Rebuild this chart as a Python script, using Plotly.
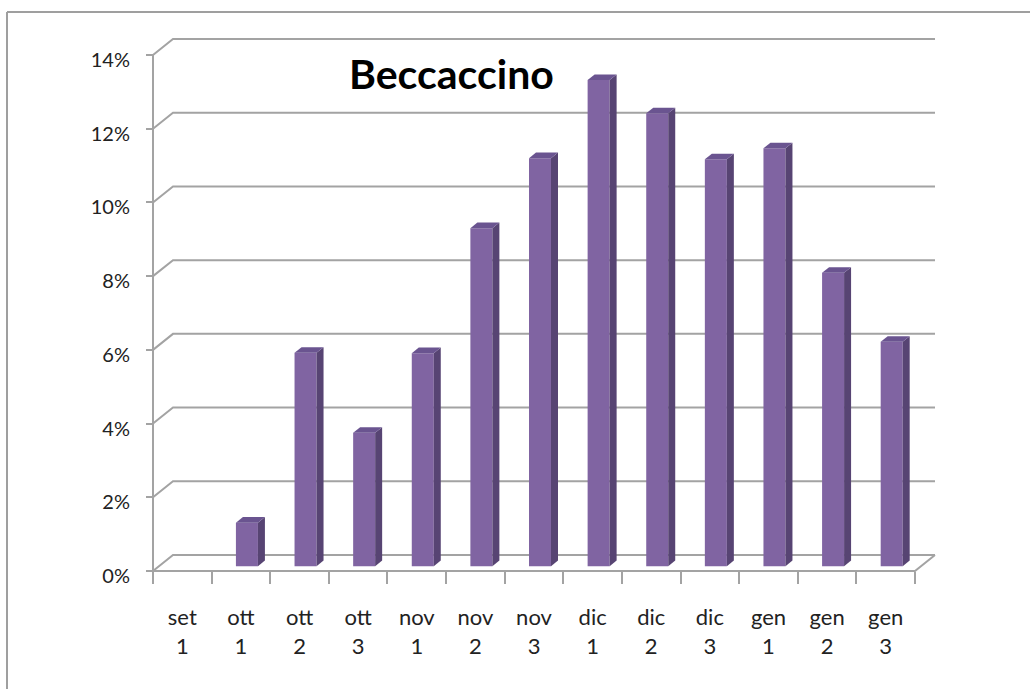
import plotly.graph_objects as go

# ---------------- data ----------------
categories = ["set<br>1", "ott<br>1", "ott<br>2", "ott<br>3", "nov<br>1", "nov<br>2", "nov<br>3",
              "dic<br>1", "dic<br>2", "dic<br>3", "gen<br>1", "gen<br>2", "gen<br>3"]
values = [0.0, 1.18, 5.79, 3.62, 5.78, 9.17, 11.07, 13.19, 12.29, 11.04, 11.34, 7.96, 6.09]
y_ticks = [0, 2, 4, 6, 8, 10, 12, 14]
y_tick_labels = [f"{t}%" for t in y_ticks]
title_text = "Beccaccino"

# ---------------- geometry / style ----------------
W, H = 1030, 689
X0PX, UX = 153.0, 762.0 / 13.0      # pixel of left category edge, px per category
Y0PX, UY = 571.0, 516.0 / 14.0      # pixel of 0 %, px per 1 %
DX, DY = 20.0 / UX, 16.0 / UY       # full depth of the 3D box, data units
F_POS, F_DEPTH = 0.30, 0.35         # bar depth position / bar depth (fraction of full depth)
BAR_W = 22.0 / UX

GRID = "#a3a3a3"
FRONT = "#8064a2"
SIDE = "#574473"
TOP = "#6a5490"
FONT = "Lato"


def px_to_x(px):
    return -0.5 + (px - X0PX) / UX


def py_to_y(py):
    return (Y0PX - py) / UY


n = len(categories)
x_left, x_right = -0.5, n - 0.5

fig = go.Figure()

# walls, floor and grid lines (as shapes below the traces)
segments = []
for t in y_ticks:
    segments.append([(x_left, t), (x_left + DX, t + DY), (x_right + DX, t + DY)])
segments.append([(x_left, 0), (x_left, y_ticks[-1])])
segments.append([(x_left, 0), (x_right, 0), (x_right + DX, DY)])
path = " ".join("M " + " L ".join(f"{x:.5f},{y:.5f}" for x, y in seg) for seg in segments)
shapes = [dict(type="path", xref="x", yref="y", path=path, layer="below",
               line=dict(color=GRID, width=2))]

off = F_POS * DX
yb = F_POS * DY
ddx, ddy = F_DEPTH * DX, F_DEPTH * DY
bar_x = [i + off for i in range(n)]

# front faces
fig.add_trace(go.Bar(x=bar_x, y=values, base=[yb] * n, width=BAR_W,
                     marker=dict(color=FRONT, line=dict(width=0)),
                     hoverinfo="skip", showlegend=False))

for i, v in enumerate(values):
    if v <= 0:
        continue
    xl = bar_x[i] - BAR_W / 2
    xr = bar_x[i] + BAR_W / 2
    yt = yb + v
    # side face
    fig.add_trace(go.Scatter(x=[xr, xr + ddx, xr + ddx, xr, xr],
                             y=[yb, yb + ddy, yt + ddy, yt, yb],
                             mode="lines", fill="toself", fillcolor=SIDE,
                             line=dict(width=0, color=SIDE), hoverinfo="skip", showlegend=False))
    # top face
    fig.add_trace(go.Scatter(x=[xl, xr, xr + ddx, xl + ddx, xl],
                             y=[yt, yt, yt + ddy, yt + ddy, yt],
                             mode="lines", fill="toself", fillcolor=TOP,
                             line=dict(width=0, color=TOP), hoverinfo="skip", showlegend=False))

shapes += [
    dict(type="line", xref="paper", yref="paper", x0=7 / W, x1=1.0, y0=1 - 12 / H, y1=1 - 12 / H,
         line=dict(color="#9f9f9f", width=2)),
    dict(type="line", xref="paper", yref="paper", x0=7 / W, x1=7 / W, y0=1 - 12 / H, y1=0,
         line=dict(color="#9f9f9f", width=2)),
]

fig.update_layout(
    width=W, height=H,
    margin=dict(l=0, r=0, t=0, b=0),
    paper_bgcolor="white", plot_bgcolor="rgba(0,0,0,0)",
    showlegend=False,
    xaxis=dict(
        domain=[140 / W, 945 / W],
        range=[px_to_x(140), px_to_x(945)],
        anchor="free", position=1 - Y0PX / H,
        tickmode="array", tickvals=list(range(n)), ticktext=categories,
        ticks="", showline=False, showgrid=False, zeroline=False,
        tickfont=dict(family=FONT, size=22, color="#222222"),
        ticklabelstandoff=31,
        minor=dict(tickmode="array", tickvals=[i - 0.5 for i in range(n + 1)],
                   ticks="outside", ticklen=12, tickwidth=2, tickcolor=GRID, showgrid=False),
        fixedrange=True,
    ),
    yaxis=dict(
        domain=[1 - 590 / H, 1 - 35 / H],
        range=[py_to_y(590), py_to_y(35)],
        anchor="free", position=X0PX / W,
        tickmode="array", tickvals=y_ticks, ticktext=y_tick_labels,
        ticks="outside", ticklen=7, tickwidth=2, tickcolor=GRID,
        showline=False, showgrid=False, zeroline=False,
        tickfont=dict(family=FONT, size=20, color="#222222"),
        ticklabelstandoff=12, ticklabelshift=5,
        fixedrange=True,
    ),
    annotations=[dict(text="<b>" + title_text + "</b>", xref="paper", yref="paper",
                      x=451 / W, y=1 - 73 / H, xanchor="center", yanchor="middle",
                      showarrow=False, font=dict(family=FONT, size=41, color="black"))],
    shapes=shapes,
)

fig.write_html("out.html", config={"displayModeBar": False, "staticPlot": True},
               post_script="document.body.style.margin='0';document.body.style.overflow='hidden';")
